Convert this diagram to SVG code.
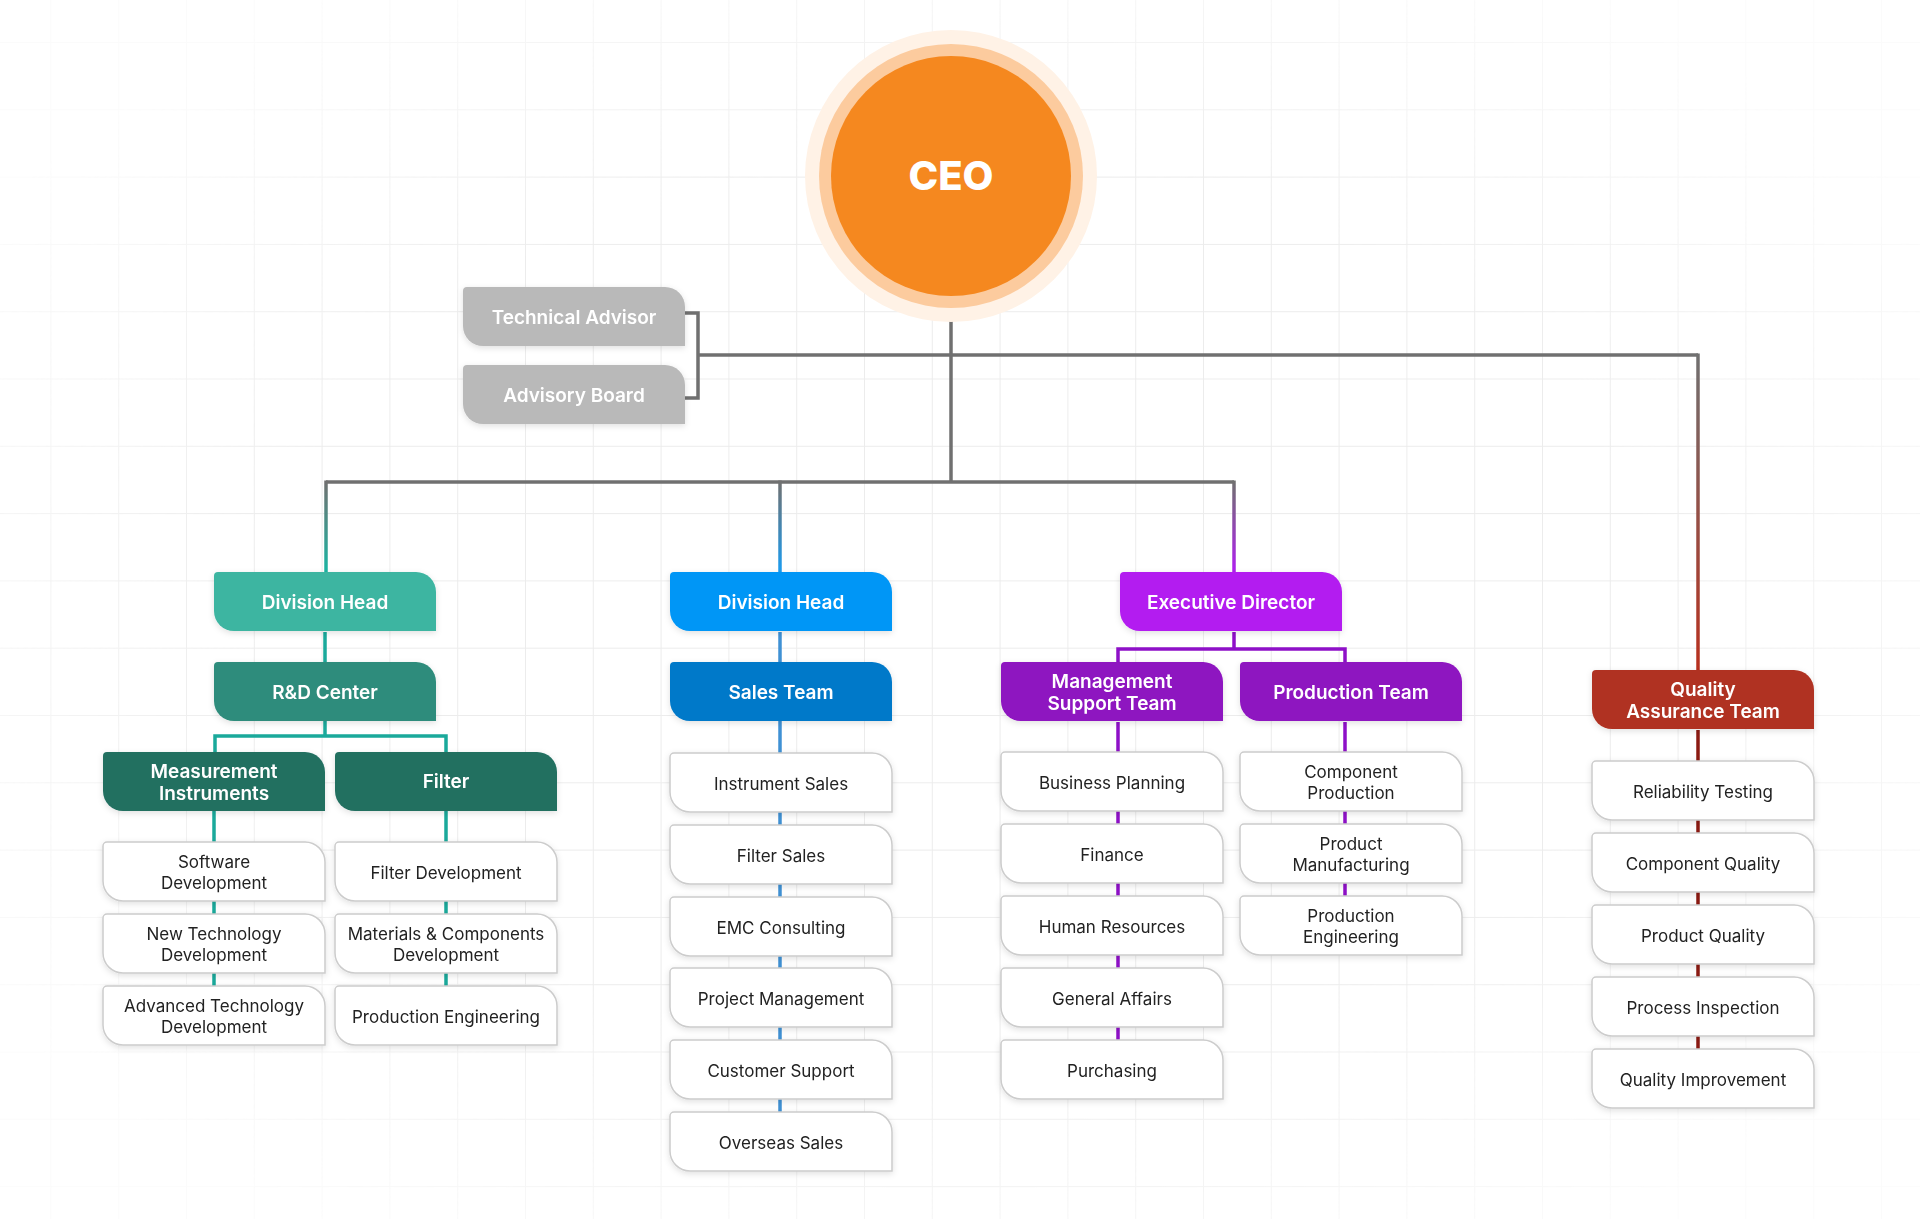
<svg xmlns="http://www.w3.org/2000/svg" xmlns:xlink="http://www.w3.org/1999/xlink" width="1920" height="1219" viewBox="0 0 1920 1219">
<style>
.hdr{font-family:Inter,"Liberation Sans",sans-serif;font-weight:600;font-size:19px;fill:#ffffff;text-anchor:middle}
.lbl{font-family:Inter,"Liberation Sans",sans-serif;font-weight:400;font-size:17px;fill:#222222;text-anchor:middle;transform:translateY(1px)}
.ceo{font-family:Inter,"Liberation Sans",sans-serif;font-weight:800;font-size:40px;fill:#ffffff;text-anchor:middle}
.white{fill:#ffffff;stroke:#cccccc;stroke-width:1.5}
.gray{fill:#b9b9b9}
.teal1{fill:#3cb5a1}
.teal2{fill:#2e8c7b}
.teal3{fill:#236f61}
.blue1{fill:#0096f6}
.blue2{fill:#0579c9}
.purp1{fill:#b31af0}
.purp2{fill:#8e12c0}
.red1{fill:#b03322}
.ln{fill:none;stroke-width:3.5;stroke-linejoin:miter}
.gl{stroke:#707070}
.tl{stroke:#1aa99b}
.bl{stroke:#3f91d4}
.pl{stroke:#8e10c8}
.rl{stroke:#8b1a12}
</style>
<defs>
<path id="shape" d="M4,0 H202 A20,20 0 0 1 222,20 V59 H20 A20,20 0 0 1 0,39 V4 A4,4 0 0 1 4,0 Z"/>
<filter id="sh" x="-10%" y="-20%" width="120%" height="150%">
<feDropShadow dx="0" dy="2" stdDeviation="3" flood-color="#000" flood-opacity="0.12"/>
</filter>
<pattern id="grid" x="50.4" y="42" width="67.8" height="67.3" patternUnits="userSpaceOnUse">
<path d="M0,0 V67.3 M0,0 H67.8" fill="none" stroke="#ececec" stroke-width="2"/>
</pattern>
<radialGradient id="fade" cx="50%" cy="50%" r="60%">
<stop offset="0.6" stop-color="#fff" stop-opacity="1"/>
<stop offset="1" stop-color="#fff" stop-opacity="0.2"/>
</radialGradient>
<mask id="gm"><rect width="1920" height="1219" fill="url(#fade)"/></mask>
<linearGradient id="gTeal" gradientUnits="userSpaceOnUse" x1="0" y1="482" x2="0" y2="572"><stop offset="0" stop-color="#707070"/><stop offset="1" stop-color="#1ab5a3"/></linearGradient>
<linearGradient id="gBlue" gradientUnits="userSpaceOnUse" x1="0" y1="482" x2="0" y2="572"><stop offset="0" stop-color="#707070"/><stop offset="1" stop-color="#1a9cf0"/></linearGradient>
<linearGradient id="gPurp" gradientUnits="userSpaceOnUse" x1="0" y1="482" x2="0" y2="572"><stop offset="0" stop-color="#707070"/><stop offset="1" stop-color="#b01ef0"/></linearGradient>
<linearGradient id="gRed" gradientUnits="userSpaceOnUse" x1="0" y1="355" x2="0" y2="670"><stop offset="0" stop-color="#707070"/><stop offset="1" stop-color="#b8301e"/></linearGradient>
</defs>

<rect width="1920" height="1219" fill="#ffffff"/>
<rect width="1920" height="1219" fill="url(#grid)" mask="url(#gm)"/>

<g id="connectors">
<path class="ln gl" d="M951,296 V482"/>
<path class="ln gl" d="M698,355 H1698"/>
<path class="ln gl" d="M685,313 H698 V398 H685"/>
<path class="ln gl" d="M326,482 H1234"/>
<path class="ln" stroke="url(#gTeal)" d="M326,480.5 V572"/>
<path class="ln" stroke="url(#gBlue)" d="M780,480.5 V572"/>
<path class="ln" stroke="url(#gPurp)" d="M1234,480.5 V572"/>
<path class="ln" stroke="url(#gRed)" d="M1698,353.5 V670"/>
<path class="ln tl" d="M325,632 V736 M215,752 V736 H446 V752"/>
<path class="ln tl" d="M214,811 V986 M446,811 V986"/>
<path class="ln bl" d="M780,632 V1112"/>
<path class="ln pl" d="M1234,632 V649 M1118,662 V649 H1345 V662"/>
<path class="ln pl" d="M1118,722 V1040 M1345,722 V896"/>
<path class="ln rl" d="M1698,730 V1049"/>
</g>

<g id="ceo">
<circle cx="951" cy="176" r="146" fill="#fff2e6"/>
<circle cx="951" cy="176" r="132" fill="#fccb9e"/>
<circle cx="951" cy="176" r="120" fill="#f5881f"/>
<text class="ceo" x="951" y="190">CEO</text>
</g>

<g id="technical-advisor" filter="url(#sh)"><use href="#shape" class="gray" x="463" y="287"/><text class="hdr" x="574" y="323.5">Technical Advisor</text></g>
<g id="advisory-board" filter="url(#sh)"><use href="#shape" class="gray" x="463" y="365"/><text class="hdr" x="574" y="401.5">Advisory Board</text></g>

<g id="rd-division-head" filter="url(#sh)"><use href="#shape" class="teal1" x="214" y="572"/><text class="hdr" x="325" y="609">Division Head</text></g>
<g id="rd-center" filter="url(#sh)"><use href="#shape" class="teal2" x="214" y="662"/><text class="hdr" x="325" y="699">R&amp;D Center</text></g>
<g id="measurement-instruments" filter="url(#sh)"><use href="#shape" class="teal3" x="103" y="752"/><text class="hdr" x="214" y="778">Measurement</text><text class="hdr" x="214" y="800">Instruments</text></g>
<g id="filter" filter="url(#sh)"><use href="#shape" class="teal3" x="335" y="752"/><text class="hdr" x="446" y="788">Filter</text></g>
<g id="software-development" filter="url(#sh)"><use href="#shape" class="white" x="103" y="842"/><text class="lbl" x="214" y="867">Software</text><text class="lbl" x="214" y="888">Development</text></g>
<g id="new-technology-development" filter="url(#sh)"><use href="#shape" class="white" x="103" y="914"/><text class="lbl" x="214" y="939">New Technology</text><text class="lbl" x="214" y="960">Development</text></g>
<g id="advanced-technology-development" filter="url(#sh)"><use href="#shape" class="white" x="103" y="986"/><text class="lbl" x="214" y="1011">Advanced Technology</text><text class="lbl" x="214" y="1032">Development</text></g>
<g id="filter-development" filter="url(#sh)"><use href="#shape" class="white" x="335" y="842"/><text class="lbl" x="446" y="877.5">Filter Development</text></g>
<g id="materials-components-development" filter="url(#sh)"><use href="#shape" class="white" x="335" y="914"/><text class="lbl" x="446" y="939">Materials &amp; Components</text><text class="lbl" x="446" y="960">Development</text></g>
<g id="rd-production-engineering" filter="url(#sh)"><use href="#shape" class="white" x="335" y="986"/><text class="lbl" x="446" y="1021.5">Production Engineering</text></g>

<g id="sales-division-head" filter="url(#sh)"><use href="#shape" class="blue1" x="670" y="572"/><text class="hdr" x="781" y="609">Division Head</text></g>
<g id="sales-team" filter="url(#sh)"><use href="#shape" class="blue2" x="670" y="662"/><text class="hdr" x="781" y="699">Sales Team</text></g>
<g id="instrument-sales" filter="url(#sh)"><use href="#shape" class="white" x="670" y="753"/><text class="lbl" x="781" y="788.5">Instrument Sales</text></g>
<g id="filter-sales" filter="url(#sh)"><use href="#shape" class="white" x="670" y="825"/><text class="lbl" x="781" y="860.5">Filter Sales</text></g>
<g id="emc-consulting" filter="url(#sh)"><use href="#shape" class="white" x="670" y="897"/><text class="lbl" x="781" y="932.5">EMC Consulting</text></g>
<g id="project-management" filter="url(#sh)"><use href="#shape" class="white" x="670" y="968"/><text class="lbl" x="781" y="1003.5">Project Management</text></g>
<g id="customer-support" filter="url(#sh)"><use href="#shape" class="white" x="670" y="1040"/><text class="lbl" x="781" y="1075.5">Customer Support</text></g>
<g id="overseas-sales" filter="url(#sh)"><use href="#shape" class="white" x="670" y="1112"/><text class="lbl" x="781" y="1147.5">Overseas Sales</text></g>

<g id="executive-director" filter="url(#sh)"><use href="#shape" class="purp1" x="1120" y="572"/><text class="hdr" x="1231" y="609">Executive Director</text></g>
<g id="management-support-team" filter="url(#sh)"><use href="#shape" class="purp2" x="1001" y="662"/><text class="hdr" x="1112" y="688">Management</text><text class="hdr" x="1112" y="710">Support Team</text></g>
<g id="production-team" filter="url(#sh)"><use href="#shape" class="purp2" x="1240" y="662"/><text class="hdr" x="1351" y="699">Production Team</text></g>
<g id="business-planning" filter="url(#sh)"><use href="#shape" class="white" x="1001" y="752"/><text class="lbl" x="1112" y="787.5">Business Planning</text></g>
<g id="finance" filter="url(#sh)"><use href="#shape" class="white" x="1001" y="824"/><text class="lbl" x="1112" y="859.5">Finance</text></g>
<g id="human-resources" filter="url(#sh)"><use href="#shape" class="white" x="1001" y="896"/><text class="lbl" x="1112" y="931.5">Human Resources</text></g>
<g id="general-affairs" filter="url(#sh)"><use href="#shape" class="white" x="1001" y="968"/><text class="lbl" x="1112" y="1003.5">General Affairs</text></g>
<g id="purchasing" filter="url(#sh)"><use href="#shape" class="white" x="1001" y="1040"/><text class="lbl" x="1112" y="1075.5">Purchasing</text></g>
<g id="component-production" filter="url(#sh)"><use href="#shape" class="white" x="1240" y="752"/><text class="lbl" x="1351" y="777">Component</text><text class="lbl" x="1351" y="798">Production</text></g>
<g id="product-manufacturing" filter="url(#sh)"><use href="#shape" class="white" x="1240" y="824"/><text class="lbl" x="1351" y="849">Product</text><text class="lbl" x="1351" y="870">Manufacturing</text></g>
<g id="production-engineering" filter="url(#sh)"><use href="#shape" class="white" x="1240" y="896"/><text class="lbl" x="1351" y="921">Production</text><text class="lbl" x="1351" y="942">Engineering</text></g>

<g id="quality-assurance-team" filter="url(#sh)"><use href="#shape" class="red1" x="1592" y="670"/><text class="hdr" x="1703" y="696">Quality</text><text class="hdr" x="1703" y="718">Assurance Team</text></g>
<g id="reliability-testing" filter="url(#sh)"><use href="#shape" class="white" x="1592" y="761"/><text class="lbl" x="1703" y="796.5">Reliability Testing</text></g>
<g id="component-quality" filter="url(#sh)"><use href="#shape" class="white" x="1592" y="833"/><text class="lbl" x="1703" y="868.5">Component Quality</text></g>
<g id="product-quality" filter="url(#sh)"><use href="#shape" class="white" x="1592" y="905"/><text class="lbl" x="1703" y="940.5">Product Quality</text></g>
<g id="process-inspection" filter="url(#sh)"><use href="#shape" class="white" x="1592" y="977"/><text class="lbl" x="1703" y="1012.5">Process Inspection</text></g>
<g id="quality-improvement" filter="url(#sh)"><use href="#shape" class="white" x="1592" y="1049"/><text class="lbl" x="1703" y="1084.5">Quality Improvement</text></g>
</svg>
